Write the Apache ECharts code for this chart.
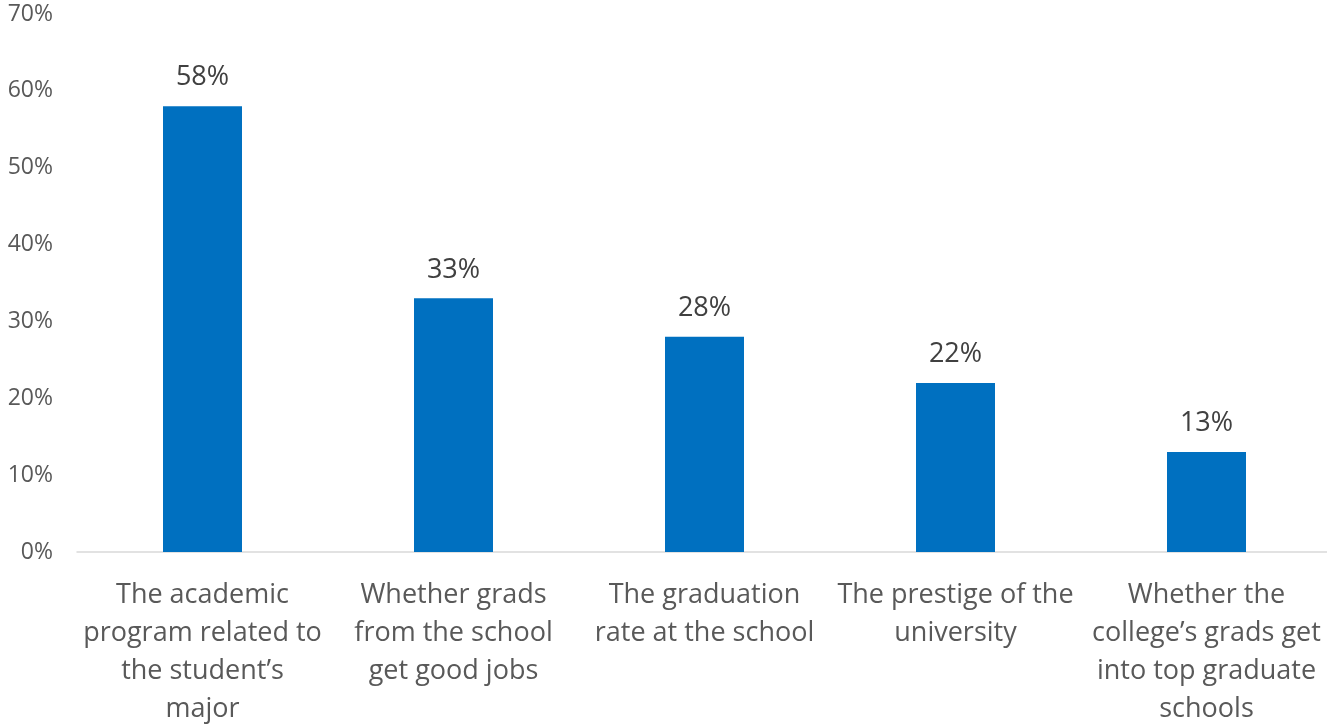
<!DOCTYPE html>
<html>
<head>
<meta charset="utf-8">
<script src="https://cdn.jsdelivr.net/npm/echarts@6/dist/echarts.min.js"></script>
<style>
  html, body { margin: 0; padding: 0; background: #ffffff; }
  #chart { width: 1327px; height: 725px; }
</style>
</head>
<body>
<div id="chart"></div>
<script>
// Factors considered when choosing a college (share of respondents, %)
const categories = [
  'The academic\nprogram related to\nthe student\u2019s\nmajor',
  'Whether grads\nfrom the school\nget good jobs',
  'The graduation\nrate at the school',
  'The prestige of the\nuniversity',
  'Whether the\ncollege\u2019s grads get\ninto top graduate\nschools'
];
const shares = [58, 33, 28, 22, 13];
const yTicks = { min: 0, max: 70, interval: 10 };

const FONT = '"Open Sans", "Noto Sans", sans-serif';

const chart = echarts.init(document.getElementById('chart'), null, { renderer: 'canvas' });
chart.setOption({
  animation: false,
  backgroundColor: '#ffffff',
  grid: {
    left: 77, top: 14, width: 1255, height: 538,
    containLabel: false,
    outerBoundsMode: 'none'
  },
  xAxis: {
    type: 'category',
    data: categories,
    axisLine: { show: true, lineStyle: { color: '#d9d9d9', width: 1.5 } },
    axisTick: { show: false },
    axisLabel: {
      interval: 0,
      color: '#595959',
      fontFamily: FONT,
      fontSize: 27,
      lineHeight: 38,
      margin: 24,
      align: 'center'
    }
  },
  yAxis: {
    type: 'value',
    min: yTicks.min,
    max: yTicks.max,
    interval: yTicks.interval,
    splitLine: { show: false },
    axisLine: { show: false },
    axisTick: { show: false },
    axisLabel: {
      color: '#595959',
      fontFamily: FONT,
      fontSize: 23,
      margin: 24,
      formatter: v => v + '%'
    }
  },
  series: [{
    type: 'bar',
    data: shares,
    barWidth: 79,
    itemStyle: { color: '#0070C0' },
    label: {
      show: true,
      position: 'top',
      distance: 15,
      color: '#404040',
      fontFamily: FONT,
      fontSize: 27,
      formatter: p => p.value + '%'
    }
  }]
});
</script>
</body>
</html>
